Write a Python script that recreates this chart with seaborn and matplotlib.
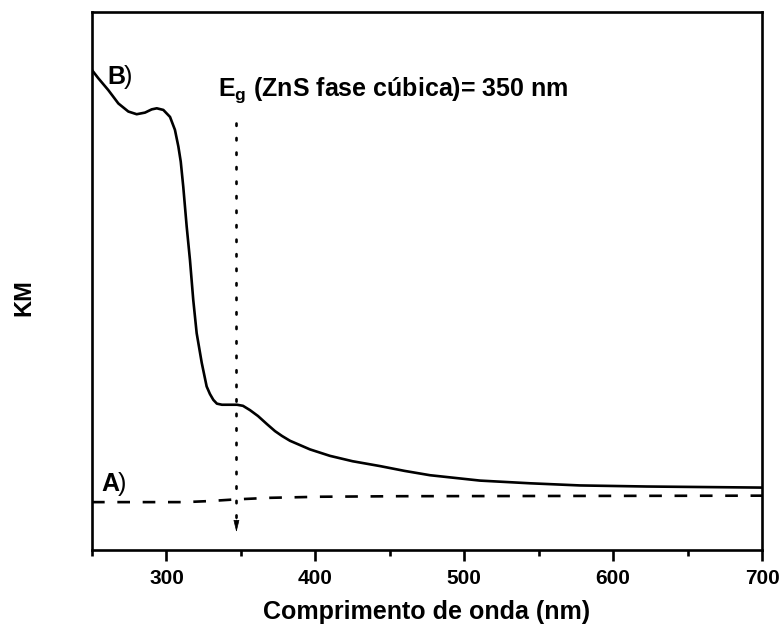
import numpy as np
import pandas as pd
import matplotlib
matplotlib.use("Agg")
import matplotlib.pyplot as plt
import seaborn as sns

# ---- data ----
wl_B = [250.0, 254.2, 260.9, 267.7, 274.4, 280.0, 285.6, 290.1, 293.5, 297.9,
        302.4, 305.7, 308.0, 309.6, 311.3, 313.6, 315.8, 318.0, 320.3, 323.7,
        327.0, 329.2, 331.5, 333.9, 337.3, 342.7, 347.4, 351.4, 356.1, 361.5,
        367.5, 372.9, 377.6, 383.0, 389.7, 396.4, 409.8, 425.0, 443.4, 460.0,
        477.0, 510.6, 544.2, 577.7, 622.7, 700.0]
km_B = [89.2, 87.7, 85.5, 83.0, 81.5, 81.0, 81.3, 81.9, 82.1, 81.8,
        80.5, 78.1, 75.0, 72.2, 67.5, 60.1, 53.9, 46.5, 40.3, 34.8,
        30.4, 29.0, 27.9, 27.2, 27.0, 27.0, 27.0, 26.8, 26.0, 24.9,
        23.4, 22.1, 21.2, 20.3, 19.5, 18.7, 17.5, 16.5, 15.6, 14.7,
        13.9, 12.9, 12.4, 12.0, 11.8, 11.6]
wl_A = [250.0, 312.5, 329.2, 346.0, 369.5, 403.1, 456.8, 700.0]
km_A = [8.9, 8.9, 9.1, 9.4, 9.7, 9.9, 10.0, 10.1]

eg_wl = 347.0
x_major = [300, 400, 500, 600, 700]
x_major_labels = ["300", "400", "500", "600", "700"]
x_minor = [250, 350, 450, 550, 650]

sns.set_style("ticks")
plt.rcParams["font.family"] = ["Liberation Sans", "DejaVu Sans"]
plt.rcParams["mathtext.fontset"] = "custom"
plt.rcParams["mathtext.bf"] = "Liberation Sans:bold"
plt.rcParams["mathtext.rm"] = "Liberation Sans"
plt.rcParams["text.color"] = "black"
plt.rcParams["axes.labelcolor"] = "black"
plt.rcParams["xtick.color"] = "black"
plt.rcParams["xtick.labelcolor"] = "black"

fig = plt.figure(figsize=(7.81, 6.32), dpi=100)
ax = fig.add_axes([92/781, 82/632, 670/781, 538/632])

dfB = pd.DataFrame({"wl": wl_B, "km": km_B})
dfA = pd.DataFrame({"wl": wl_A, "km": km_A})
sns.lineplot(data=dfB, x="wl", y="km", ax=ax, color="black", lw=1.9, sort=False)
sns.lineplot(data=dfA, x="wl", y="km", ax=ax, color="black", lw=1.9, sort=False)
ax.lines[-1].set_dashes((4.8, 4.8))
for ln in ax.lines:
    ln.set_solid_joinstyle("round")

# dotted arrow marking Eg
ax.plot([eg_wl, eg_wl], [79.4, 5.5], color="black", lw=1.9,
        linestyle=(0, (0.9, 4.6)), dash_capstyle="round")
ax.annotate("", xy=(eg_wl, 3.3), xytext=(eg_wl, 5.6),
            arrowprops=dict(arrowstyle="-|>,head_length=0.75,head_width=0.18",
                            color="black", lw=0.5, shrinkA=0, shrinkB=0))

ax.text(334.6, 84.4, r"$\mathbf{E}_{\mathbf{g}}$ (ZnS fase cúbica)= 350 nm",
        fontsize=18, fontweight="bold", ha="left", va="baseline", color="black")
ax.text(260, 86.7, "B", fontsize=18, fontweight="bold", ha="left", va="baseline")
ax.text(271.3, 86.7, ")", fontsize=18, ha="left", va="baseline")
ax.text(256, 11.0, "A", fontsize=18, fontweight="bold", ha="left", va="baseline")
ax.text(267.3, 11.0, ")", fontsize=18, ha="left", va="baseline")

ax.set_xlim(250, 700)
ax.set_ylim(0, 100)
ax.set_xticks(x_major)
ax.set_xticklabels(x_major_labels, fontsize=15, fontweight="bold", color="black")
ax.set_xticks(x_minor, minor=True)
ax.set_yticks([])
for sp in ax.spines.values():
    sp.set_linewidth(1.9)
    sp.set_color("black")
ax.tick_params(axis="x", which="major", direction="out", length=8, width=1.9,
               pad=6, colors="black")
ax.tick_params(axis="x", which="minor", direction="out", length=4.5, width=1.9,
               colors="black")

ax.set_xlabel("Comprimento de onda (nm)", fontsize=18, fontweight="bold",
              labelpad=8, color="black")
ax.set_ylabel("KM", fontsize=17, fontweight="bold", color="black")
ax.yaxis.set_label_coords(-0.085, 0.47)

fig.savefig("out.png", dpi=100)
